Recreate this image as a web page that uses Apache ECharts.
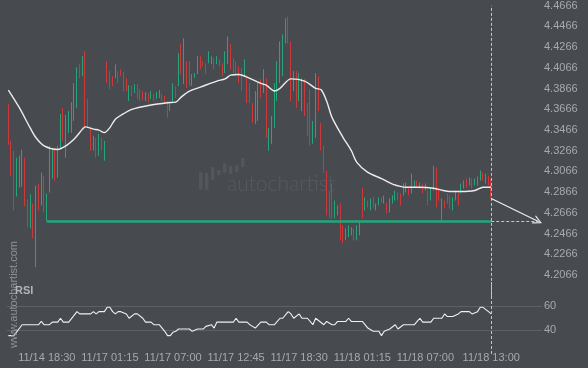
<!DOCTYPE html>
<html><head><meta charset="utf-8">
<script src="https://cdn.jsdelivr.net/npm/echarts@6/dist/echarts.min.js"></script>
<style>html,body{margin:0;padding:0;background:#474a4f}#c{width:588px;height:368px}</style>
</head><body><div id="c"></div>
<script>
// ---- data ----
const highs=[
4.3716,4.3361,4.3266,4.3198,4.3218,4.3275,4.3198,4.2796,4.2844,4.2757,
4.2930,4.2949,4.3055,4.3026,4.2853,4.3313,4.3294,4.3285,4.3313,4.3620,
4.3678,4.3611,4.3649,4.3735,4.3918,4.4071,4.4100,4.4177,4.4225,4.3764,
4.3486,4.3409,4.3390,4.3429,4.3390,4.3361,4.4129,4.4033,4.3985,4.4100,
4.4033,4.4052,4.4023,4.3966,4.3898,4.3889,4.3908,4.3908,4.3860,4.3841,
4.3831,4.3822,4.3841,4.3812,4.3831,4.3851,4.3812,4.3793,4.3745,4.3726,
4.3918,4.3889,4.4205,4.4292,4.4349,4.4129,4.4129,4.4004,4.4014,4.4177,
4.4177,4.4129,4.4109,4.4225,4.4177,4.4157,4.4177,4.4148,4.4109,4.4225,
4.4368,4.4292,4.4157,4.4129,4.4081,4.4062,4.4148,4.3966,4.3918,4.3726,
4.3841,4.3918,4.3956,4.4052,4.3966,4.3486,4.3601,4.3918,4.4129,4.4320,
4.4388,4.4541,4.4560,4.4320,4.4033,4.4033,4.4014,4.3966,4.3956,4.3726,
4.3860,4.3553,4.4014,4.3985,4.3534,4.3313,4.3074,4.2882,4.2949,4.2786,
4.2738,4.2757,4.2546,4.2518,4.2546,4.2527,4.2518,4.2546,4.2575,4.2911,
4.2815,4.2786,4.2805,4.2815,4.2757,4.2815,4.2815,4.2834,4.2767,4.2805,
4.2834,4.2882,4.2863,4.2853,4.2949,4.2959,4.2911,4.3045,4.2978,4.2978,
4.2959,4.2949,4.2949,4.2882,4.2911,4.3122,4.3103,4.2901,4.2805,4.2786,
4.2853,4.2834,4.2815,4.2882,4.2863,4.2949,4.2978,4.2997,4.3007,4.2997,
4.2997,4.3016,4.3074,4.3055,4.3045,4.3026,4.2997];
const lows=[
4.3323,4.3026,4.2690,4.2824,4.2911,4.2920,4.2729,4.2527,4.2518,4.2422,
4.2144,4.2690,4.2738,4.2671,4.2585,4.2863,4.2997,4.2978,4.3007,4.3285,
4.3361,4.3198,4.3438,4.3438,4.3553,4.3678,4.3966,4.3985,4.3486,4.3486,
4.3266,4.3266,4.3198,4.3218,4.3266,4.3170,4.3918,4.3860,4.3889,4.3966,
4.3918,4.3985,4.3841,4.3841,4.3745,4.3793,4.3822,4.3764,4.3745,4.3755,
4.3745,4.3735,4.3764,4.3745,4.3764,4.3774,4.3745,4.3716,4.3582,4.3649,
4.3726,4.3774,4.3889,4.4004,4.3908,4.3870,4.3889,4.3889,4.3966,4.4004,
4.4052,4.4081,4.4004,4.4109,4.4100,4.4052,4.4100,4.4081,4.3985,4.4014,
4.4100,4.4052,4.4014,4.4004,4.3918,4.3841,4.3985,4.3726,4.3726,4.3534,
4.3524,4.3553,4.3774,4.3822,4.3390,4.3266,4.3333,4.3486,4.3745,4.3918,
4.3985,4.4301,4.4301,4.3745,4.3841,4.3678,4.3745,4.3649,4.3601,4.3409,
4.3313,4.3333,4.3390,4.3649,4.3266,4.3055,4.2642,4.2613,4.2613,4.2613,
4.2642,4.2402,4.2374,4.2402,4.2431,4.2450,4.2402,4.2402,4.2450,4.2613,
4.2690,4.2719,4.2690,4.2709,4.2690,4.2738,4.2767,4.2757,4.2661,4.2671,
4.2757,4.2786,4.2786,4.2738,4.2834,4.2863,4.2834,4.2853,4.2911,4.2911,
4.2901,4.2853,4.2882,4.2738,4.2786,4.2882,4.2719,4.2786,4.2585,4.2709,
4.2757,4.2709,4.2690,4.2786,4.2738,4.2853,4.2901,4.2911,4.2930,4.2901,
4.2930,4.2930,4.2978,4.2978,4.2949,4.2930,4.2805];
// u = rising candle (green), d = falling candle (red)
const dirs="ddduuuddud"+"ududuuuduu"+"duuuuududd"+"dudududddu"+"ddddududdd"+
"ududuudddu"+"udududduuu"+"ddduududdu"+"uddddduddd"+"uududuuuuu"+
"uudduduudd"+"duuddddddu"+"udduuuduud"+"ududuududu"+"uudduuduud"+
"ududuuddud"+"dduuduudud"+"uuududd";

// moving average (read at sampled candles)
const maIdx=[0,4,8,10,13,18,21,24,27,28,31,33,35,37,39,42,45,52,58,61,63,66,70,76,79,81,84,88,92,94,97,99,103,108,112,114,116,118,122,125,127,131,136,140,145,150,155,160,165,170,173,176];
const maVal=[4.3851,4.3681,4.3483,4.3393,4.3313,4.3278,4.3313,4.3378,4.3474,4.3496,4.3474,4.3464,4.3441,4.3489,4.3570,4.3623,4.3665,4.3707,4.3729,4.3735,4.3783,4.3841,4.3879,4.3937,4.3959,4.3994,4.4001,4.3963,4.3915,4.3898,4.3841,4.3867,4.3959,4.3937,4.3867,4.3853,4.3745,4.3585,4.3393,4.3266,4.3153,4.3057,4.2997,4.2944,4.2914,4.2914,4.2904,4.2875,4.2872,4.2882,4.2914,4.2914];

// RSI (read at sampled candles)
const rsiIdx=[0,2,5,11,12,13,15,16,18,19,20,22,25,26,30,31,32,33,35,36,37,38,39,40,41,43,44,46,47,49,50,52,53,55,57,58,59,60,61,62,66,67,69,71,72,74,75,76,82,83,84,87,88,89,90,92,94,95,97,99,100,102,103,104,106,107,109,111,112,115,116,118,119,120,123,124,125,129,130,131,133,135,136,137,139,141,142,144,148,149,150,151,154,155,158,159,160,162,164,165,168,169,171,172,173,175,176];
const rsiVal=[35.3,35.3,44.4,44.4,47.1,44.4,44.4,46.6,46.6,49.8,46.6,46.6,55.3,53.4,53.4,55.3,53.4,55.3,55.3,58.9,58.9,55.3,53.4,55.3,55.3,53.4,49.8,53.4,53.4,49.8,46.6,46.6,44.4,44.4,38.9,35.3,35.3,38.1,38.9,40.8,40.8,38.9,40.8,40.8,43,44.4,41.6,46.6,46.6,49.8,46.6,46.6,44.4,43,41.6,46.6,46.6,44.4,44.4,49.8,49.8,55.3,53.4,49.8,53.4,49.8,49.8,44.4,49.8,44.4,47.1,44.4,44.4,47.1,47.1,49.8,47.1,47.1,44.4,41.6,38.9,38.9,35.3,38.9,40.8,44.4,40.8,44.4,44.4,47.1,49.8,46.6,46.6,49.8,49.8,53.4,51.2,51.2,53.4,55.3,55.3,53.4,55.3,58.9,58.9,55.3,53.4];

const xTickIdx=[14,37,60,83,106,129,152,176];
const xTickLabels=['11/14 18:30','11/17 01:15','11/17 07:00','11/17 12:45','11/17 18:30','11/18 01:15','11/18 07:00','11/18 13:00'];
const slotCount=195;          // candles + projection space
const supportLevel=4.2585;
const supportStartIdx=14;
const lastIdx=176;
const targetIdx=193;
const priceMin=4.1866, priceMax=4.4666, priceStep=0.02;
const rsiMin=20, rsiMax=80, rsiStep=20;

// ---- build ----
const slots=[]; for(let i=0;i<slotCount;i++) slots.push(String(i));
const labelMap={}; xTickIdx.forEach((k,j)=>labelMap[k]=xTickLabels[j]);
const candles=highs.map((h,i)=>{const l=lows[i];return dirs[i]==='u'?[l,h,l,h]:[h,l,l,h];});
const lastClose=candles[lastIdx][1];
const ma=[]; for(let i=0;i<highs.length;i++) ma.push('-'); maIdx.forEach((k,j)=>ma[k]=maVal[j]);
const rsi=[]; for(let i=0;i<highs.length;i++) rsi.push('-'); rsiIdx.forEach((k,j)=>rsi[k]=rsiVal[j]);

const TXT='#a6aaae', FONT='"Liberation Sans", Arial, sans-serif';
const arrowHead='path://M5,0 L10,10 L8.6,10 L5,2.6 L1.4,10 L0,10 Z';
const chart=echarts.init(document.getElementById('c'),null,{renderer:'canvas'});
chart.setOption({
  animation:false,
  backgroundColor:'#474a4f',
  textStyle:{fontFamily:FONT},
  grid:[{left:7,right:46,top:4,height:291.9},{left:7,right:46,top:282,height:72}],
  xAxis:[
    {type:'category',gridIndex:0,data:slots,show:false,boundaryGap:true},
    {type:'category',gridIndex:1,data:slots,boundaryGap:true,
     axisLine:{show:false},axisTick:{show:false},splitLine:{show:false},
     axisLabel:{interval:(i)=>labelMap[i]!==undefined,formatter:(v,i)=>labelMap[i]||'',color:TXT,fontSize:11,margin:-2,fontFamily:FONT}}
  ],
  yAxis:[
    {type:'value',gridIndex:0,position:'right',min:priceMin,max:priceMax,interval:priceStep,
     axisLine:{show:false},axisTick:{show:false},splitLine:{show:false},
     axisLabel:{color:TXT,fontSize:11,margin:2,showMinLabel:false,formatter:v=>v.toFixed(4),fontFamily:FONT}},
    {type:'value',gridIndex:1,position:'right',min:rsiMin,max:rsiMax,interval:rsiStep,
     axisLine:{show:false},axisTick:{show:false},
     splitLine:{show:true,showMinLine:false,showMaxLine:false,lineStyle:{color:'#5d6164',width:1}},
     axisLabel:{color:TXT,fontSize:11,margin:2,showMinLabel:false,showMaxLabel:false,fontFamily:FONT}}
  ],
  graphic:[
    {type:'group',silent:true,z:0,children:[
      {type:'rect',shape:{x:199,y:172,width:3.5,height:18,r:1},style:{fill:'#53575c'}},
      {type:'rect',shape:{x:205,y:173,width:3.5,height:17,r:1},style:{fill:'#53575c'}},
      {type:'rect',shape:{x:211,y:167,width:3.5,height:13,r:1},style:{fill:'#53575c'}},
      {type:'rect',shape:{x:217,y:170,width:3.5,height:5,r:1},style:{fill:'#53575c'}},
      {type:'rect',shape:{x:223,y:163,width:3.5,height:10,r:1},style:{fill:'#53575c'}},
      {type:'rect',shape:{x:229,y:166,width:3.5,height:8,r:1},style:{fill:'#53575c'}},
      {type:'rect',shape:{x:235,y:165,width:3.5,height:7,r:1},style:{fill:'#53575c'}},
      {type:'rect',shape:{x:241,y:158,width:3.5,height:9,r:1},style:{fill:'#53575c'}},
      {type:'text',x:227,y:184,style:{text:'autochartist',fill:'#575b60',font:'300 21px Lato, sans-serif',textVerticalAlign:'middle'}}
    ]},
    {type:'text',x:14,y:348,rotation:Math.PI/2,silent:true,z:10,
     style:{text:'www.autochartist.com',fill:'#8f9398',font:'11px '+FONT,textAlign:'left',textVerticalAlign:'middle'}},
    {type:'text',x:15,y:291,silent:true,z:10,
     style:{text:'RSI',fill:'#b0b4b8',font:'bold 11px '+FONT,textVerticalAlign:'middle'}}
  ],
  series:[
    {type:'candlestick',xAxisIndex:0,yAxisIndex:0,data:candles,barWidth:1.2,
     itemStyle:{color:'#1ebd86',color0:'#ee3535',borderColor:'#1ebd86',borderColor0:'#ee3535',borderWidth:0.8},
     markLine:{silent:true,symbol:'none',label:{show:false},animation:false,
       data:[
         {xAxis:lastIdx,lineStyle:{color:'#c4c7ca',type:[3,2],width:1}},
         [{coord:[supportStartIdx,supportLevel],lineStyle:{color:'#22a77e',width:2.5,type:'solid'}},{coord:[lastIdx,supportLevel]}],
         [{coord:[lastIdx,supportLevel],lineStyle:{color:'#c4c7ca',width:1,type:[3,2]}},{coord:[slotCount-1,supportLevel]}],
         [{coord:[lastIdx,lastClose],lineStyle:{color:'#eeeeee',width:1.2,type:'solid'}},{coord:[targetIdx,supportLevel],symbol:arrowHead,symbolSize:[9,9]}]
       ]}},
    {type:'line',xAxisIndex:0,yAxisIndex:0,data:ma,connectNulls:true,smooth:0.3,showSymbol:false,symbol:'none',
     lineStyle:{color:'#ececec',width:1.4},z:3},
    {type:'line',xAxisIndex:1,yAxisIndex:1,data:rsi,connectNulls:true,showSymbol:false,symbol:'none',
     lineStyle:{color:'#f0f0f0',width:1.1},
     markLine:{silent:true,symbol:'none',label:{show:false},animation:false,
       data:[{xAxis:lastIdx,lineStyle:{color:'#c4c7ca',type:[3,2],width:1}}]}}
  ]
});
</script></body></html>
